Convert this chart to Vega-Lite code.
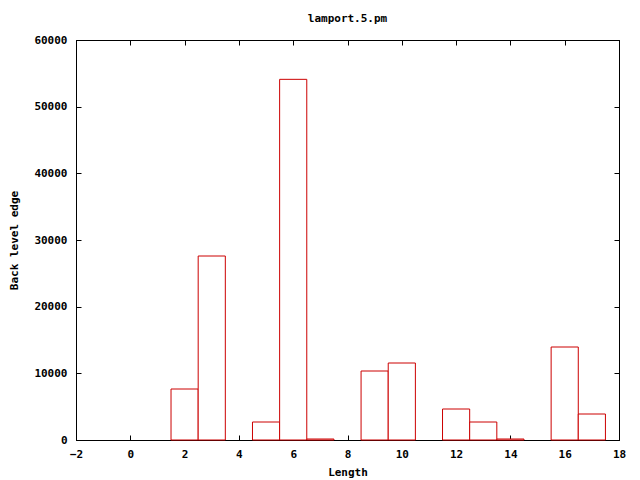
{
  "$schema": "https://vega.github.io/schema/vega-lite/v6.json",
  "width": 543,
  "height": 400,
  "autosize": {"type": "none"},
  "padding": {"left": 76, "top": 40, "right": 21, "bottom": 40},
  "background": "white",
  "title": {"text": "lamport.5.pm", "font": "DejaVu Sans Mono", "fontSize": 11, "fontWeight": "bold", "color": "black", "offset": 10, "anchor": "middle"},
  "config": {
    "view": {"stroke": "black", "strokeWidth": 1},
    "axis": {
      "labelFont": "DejaVu Sans Mono", "labelFontSize": 11, "labelFontWeight": "bold", "labelColor": "black",
      "titleFont": "DejaVu Sans Mono", "titleFontSize": 11, "titleFontWeight": "bold", "titleColor": "black",
      "domainColor": "black", "tickColor": "black", "grid": false, "tickSize": -5, "domain": true
    }
  },
  "data": {"values": [
    {"length": 2, "count": 7650},
    {"length": 3, "count": 27600},
    {"length": 5, "count": 2700},
    {"length": 6, "count": 54100},
    {"length": 7, "count": 150},
    {"length": 9, "count": 10350},
    {"length": 10, "count": 11550},
    {"length": 12, "count": 4650},
    {"length": 13, "count": 2700},
    {"length": 14, "count": 150},
    {"length": 16, "count": 13950},
    {"length": 17, "count": 3900}
  ]},
  "layer": [
    {
      "mark": {"type": "bar", "fill": "white", "stroke": "#cc0000", "strokeWidth": 1, "width": {"expr": "width/20"}},
      "encoding": {
        "x": {"field": "length", "type": "quantitative", "scale": {"domain": [-2, 18], "nice": false, "zero": false, "padding": 0},
          "axis": {"title": "Length", "format": "d", "values": [-2, 0, 2, 4, 6, 8, 10, 12, 14, 16, 18], "labelPadding": 13, "titleAnchor": "middle", "titlePadding": 7, "labelFlush": false}},
        "y": {"field": "count", "type": "quantitative", "scale": {"domain": [0, 60000], "nice": false, "padding": 0},
          "axis": {"title": "Back level edge", "format": "d", "values": [0, 10000, 20000, 30000, 40000, 50000, 60000], "labelPadding": 14, "titlePadding": 14, "labelFlush": false}}
      }
    },
    {
      "mark": {"type": "bar", "opacity": 0, "width": 1},
      "encoding": {
        "x": {"field": "length", "type": "quantitative", "scale": {"domain": [-2, 18], "nice": false, "zero": false, "padding": 0},
          "axis": {"orient": "top", "title": null, "labels": false, "values": [-2, 0, 2, 4, 6, 8, 10, 12, 14, 16, 18]}},
        "y": {"field": "count", "type": "quantitative", "scale": {"domain": [0, 60000], "nice": false, "padding": 0},
          "axis": {"orient": "right", "title": null, "labels": false, "values": [0, 10000, 20000, 30000, 40000, 50000, 60000]}}
      }
    }
  ],
  "resolve": {"axis": {"x": "independent", "y": "independent"}}
}
